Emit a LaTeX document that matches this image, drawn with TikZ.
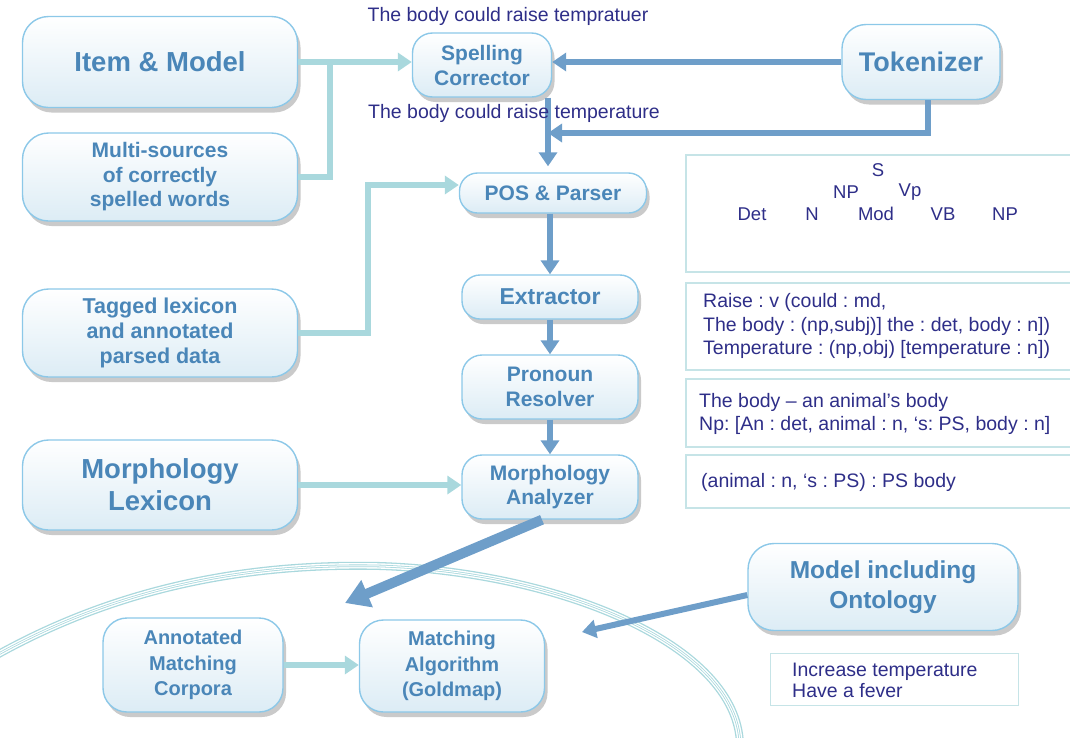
\documentclass[tikz,border=0pt]{standalone}
\usepackage{fontspec}
\setmainfont{Liberation Sans}
\frenchspacing
\usetikzlibrary{arrows.meta,shadows,calc}
\definecolor{boxtext}{HTML}{4A86B8}
\definecolor{boxborder}{HTML}{8CC8E8}
\definecolor{boxbot}{HTML}{DCECF5}
\definecolor{darkarrow}{HTML}{6E9EC9}
\definecolor{lightarrow}{HTML}{A9D8DD}
\definecolor{navy}{HTML}{2E2E88}
\definecolor{panelline}{HTML}{C6E4E7}
\tikzset{
  procbox/.style={draw=boxborder, line width=1.4pt, rounded corners=20pt,
    top color=white, bottom color=boxbot, inner sep=0pt, align=center,
    text=boxtext, font=\bfseries\fontsize{21}{25}\selectfont,
    drop shadow={shadow xshift=3pt, shadow yshift=-5pt, opacity=0.35, fill=black!60}},
  darkline/.style={draw=darkarrow, line width=6pt},
  lightline/.style={draw=lightarrow, line width=6pt},
  tipd/.style={-{Triangle[width=18pt,length=14pt]}},
  navytext/.style={text=navy, font=\fontsize{19.5}{23.5}\selectfont, inner sep=0pt},
  treetext/.style={navytext, font=\fontsize{18.5}{22}\selectfont},
  panel/.style={draw=panelline, line width=1.4pt},
}
\begin{document}
\begin{tikzpicture}[x=1pt,y=-1pt]
\useasboundingbox (0,0) rectangle (1070,737);
% big triple arc
\foreach \w/\c in {8pt/lightarrow,5.4pt/white,2.6pt/lightarrow,1pt/white}{
  \draw[line width=\w, draw=\c] (-5,656) .. controls (120,586) and (250,563) .. (380,566)
     .. controls (560,572) and (738,645) .. (740,745);
}
% boxes
\node[procbox, minimum width=275pt, minimum height=91pt, rounded corners=26pt,
      font=\bfseries\fontsize{27.5}{32}\selectfont] (item) at (160,62) {Item \& Model};
\node[procbox, minimum width=275pt, minimum height=88pt, rounded corners=26pt,
      font=\bfseries\fontsize{21}{24.5}\selectfont] (multi) at (160,177) {Multi-sources\\of correctly\\spelled words};
\node[procbox, minimum width=139pt, minimum height=64pt] (spell) at (482,65) {Spelling\\Corrector};
\node[procbox, minimum width=158pt, minimum height=75pt, rounded corners=24pt,
      font=\bfseries\fontsize{27}{32}\selectfont] (tok) at (921,62) {Tokenizer};
\node[procbox, minimum width=187pt, minimum height=40pt, rounded corners=18pt] (pos) at (553,193) {POS \& Parser};
\node[procbox, minimum width=176pt, minimum height=44pt, rounded corners=18pt,
      font=\bfseries\fontsize{23}{26}\selectfont] (ext) at (550,297) {Extractor};
\node[procbox, minimum width=176pt, minimum height=64pt] (pron) at (550,387) {Pronoun\\Resolver};
\node[procbox, minimum width=176pt, minimum height=64pt,
      font=\bfseries\fontsize{21}{24}\selectfont] (morpha) at (550,487) {Morphology\\Analyzer};
\node[procbox, minimum width=275pt, minimum height=88pt, rounded corners=26pt,
      font=\bfseries\fontsize{21.5}{25}\selectfont] (tag) at (160,333) {Tagged lexicon\\and annotated\\parsed data};
\node[procbox, minimum width=275pt, minimum height=90pt, rounded corners=26pt,
      font=\bfseries\fontsize{27.5}{32}\selectfont] (morphl) at (160,485) {Morphology\\Lexicon};
\node[procbox, minimum width=180pt, minimum height=94pt, rounded corners=24pt,
      font=\bfseries\fontsize{20}{25.5}\selectfont] (annot) at (193,665) {Annotated\\Matching\\Corpora};
\node[procbox, minimum width=185pt, minimum height=92pt, rounded corners=24pt,
      font=\bfseries\fontsize{20}{25.5}\selectfont] (match) at (452,666) {Matching\\Algorithm\\(Goldmap)};
\node[procbox, minimum width=270pt, minimum height=87pt, rounded corners=26pt,
      font=\bfseries\fontsize{24.5}{30}\selectfont] (model) at (883,587) {Model including\\Ontology};
% coordinates
\coordinate (j1) at (330,62);
\coordinate (j2) at (548,133);
\coordinate (j3) at (368,185);
\coordinate (bigend) at (345,603);
\coordinate (ontend) at (582,632);
% connectors
\draw[lightline, tipd] (item.east) -- (item.east -| spell.west);
\draw[lightline] (multi.east) -| (j1);
\draw[darkline, tipd] (tok.west) -- (tok.west -| spell.east);
\draw[darkline, tipd] ([xshift=7pt]tok.south) |- (j2);
\draw[darkline, tipd] (spell.south -| j2) -- ([yshift=6pt]pos.north -| j2);
\draw[lightline, tipd] (tag.east) -| (j3) -- (j3 -| pos.west);
\draw[darkline, tipd] (pos.south -| ext.north) -- (ext.north);
\draw[darkline, tipd] (ext.south) -- (pron.north);
\draw[darkline, tipd] (pron.south) -- (morpha.north);
\draw[lightline, tipd] (morphl.east) -- (morphl.east -| morpha.west);
\draw[draw=darkarrow, line width=10pt, -{Triangle[width=28pt,length=24pt]}] ([xshift=-8pt]morpha.south) -- (bigend);
\draw[darkline, tipd] ([yshift=-8pt]model.west) -- (ontend);
\draw[lightline, tipd] (annot.east) -- (annot.east -| match.west);
% labels
\node[navytext] (lab1) at (508,16) {The body could raise tempratuer};
\node[navytext] (lab2) at (514,113) {The body could raise temperature};
% right panels
\draw[panel] (1072,155) -- (686,155) -- (686,272) -- (1072,272);
\draw[panel] (1072,283) -- (686,283) -- (686,370) -- (1072,370);
\draw[panel] (1072,379) -- (686,379) -- (686,447) -- (1072,447);
\draw[panel] (1072,455) -- (686,455) -- (686,508) -- (1072,508);
\node[treetext] (tS) at (878,170) {S};
\node[treetext] (tNP) at (846,192) {NP};
\node[treetext] (tVp) at (910,192) {Vp};
\node[treetext] (tDet) at (752,214) {Det};
\node[treetext] (tN) at (812,214) {N};
\node[treetext] (tMod) at (876,214) {Mod};
\node[treetext] (tVB) at (943,214) {VB};
\node[treetext] (tNP2) at (1005,214) {NP};
\node[navytext, anchor=west, align=left] (p2) at (703,326)
  {Raise : v (could : md,\\The body : (np,subj)] the : det, body : n])\\Temperature : (np,obj) [temperature : n])};
\node[navytext, anchor=west, align=left] (p3) at (699,414)
  {The body – an animal’s body\\Np: [An : det, animal : n, ‘s: PS, body : n]};
\node[navytext, anchor=west, align=left] (p4) at (701,482)
  {(animal : n, ‘s : PS) : PS body};
\draw[panel, line width=1pt] (770,653) rectangle (1018,705);
\node[navytext, anchor=west, align=left, font=\fontsize{19.5}{21}\selectfont] (p5) at (792,680)
  {Increase temperature\\Have a fever};
\end{tikzpicture}
\end{document}
